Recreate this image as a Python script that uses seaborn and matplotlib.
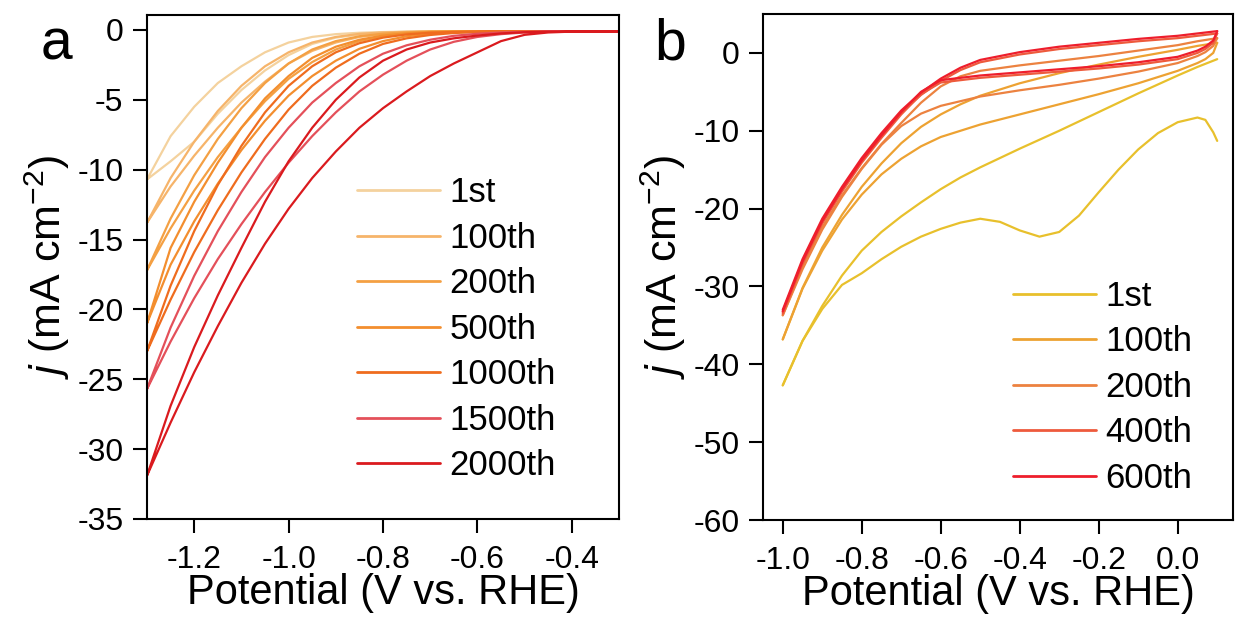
import numpy as np
import pandas as pd
import matplotlib
matplotlib.use("Agg")
import matplotlib.pyplot as plt
from matplotlib.lines import Line2D
import seaborn as sns

# ---------------- data: panel a (LSV, two sweep branches per cycle) ----------------
cycles_a = ["1st", "100th", "200th", "500th", "1000th", "1500th", "2000th"]
colors_a = ["#F4D29E", "#F6B46A", "#F4A043", "#F38E2E", "#EF6C1E", "#E4505A", "#DA1A1E"]
V_a = [-1.3, -1.25, -1.2, -1.15, -1.1, -1.05, -1.0, -0.95, -0.9, -0.85, -0.8,
       -0.75, -0.7, -0.65, -0.6, -0.55, -0.5, -0.45, -0.4, -0.3]

j_1st_fw = [-10.7, -7.6, -5.5, -3.8, -2.6, -1.6, -0.9, -0.5, -0.3, -0.2, -0.15, -0.12, -0.1, -0.1, -0.1, -0.1, -0.1, -0.1, -0.1, -0.1]
j_1st_bw = [-10.7, -9.4, -8.0, -6.0, -4.3, -2.9, -1.8, -1.0, -0.55, -0.32, -0.2, -0.15, -0.12, -0.1, -0.1, -0.1, -0.1, -0.1, -0.1, -0.1]
j_100_fw = [-13.8, -10.6, -8.0, -5.8, -4.0, -2.6, -1.6, -0.9, -0.5, -0.28, -0.18, -0.13, -0.1, -0.1, -0.1, -0.1, -0.1, -0.1, -0.1, -0.1]
j_100_bw = [-13.8, -11.2, -9.0, -7.0, -5.2, -3.7, -2.4, -1.5, -0.9, -0.5, -0.3, -0.2, -0.14, -0.1, -0.1, -0.1, -0.1, -0.1, -0.1, -0.1]
j_200_fw = [-17.2, -13.5, -10.4, -7.8, -5.6, -3.8, -2.4, -1.4, -0.8, -0.45, -0.27, -0.17, -0.12, -0.1, -0.1, -0.1, -0.1, -0.1, -0.1, -0.1]
j_200_bw = [-17.2, -14.2, -11.5, -9.1, -7.0, -5.1, -3.5, -2.3, -1.4, -0.8, -0.45, -0.27, -0.17, -0.12, -0.1, -0.1, -0.1, -0.1, -0.1, -0.1]
j_500_fw = [-21.0, -15.6, -12.3, -9.5, -7.0, -4.9, -3.3, -2.0, -1.2, -0.7, -0.4, -0.24, -0.15, -0.12, -0.1, -0.1, -0.1, -0.1, -0.1, -0.1]
j_500_bw = [-21.0, -16.8, -13.7, -11.0, -8.6, -6.5, -4.7, -3.3, -2.2, -1.35, -0.8, -0.45, -0.27, -0.17, -0.12, -0.1, -0.1, -0.1, -0.1, -0.1]
j_1000_fw = [-23.0, -18.3, -14.4, -11.1, -8.3, -5.9, -4.0, -2.6, -1.6, -0.95, -0.55, -0.32, -0.2, -0.14, -0.11, -0.1, -0.1, -0.1, -0.1, -0.1]
j_1000_bw = [-23.0, -19.3, -15.9, -12.9, -10.2, -7.8, -5.7, -4.0, -2.7, -1.7, -1.0, -0.6, -0.36, -0.22, -0.15, -0.12, -0.1, -0.1, -0.1, -0.1]
j_1500_fw = [-25.7, -21.3, -17.6, -14.4, -11.6, -9.1, -7.0, -5.2, -3.8, -2.6, -1.7, -1.1, -0.7, -0.42, -0.27, -0.18, -0.13, -0.11, -0.1, -0.1]
j_1500_bw = [-25.7, -22.3, -19.2, -16.4, -13.9, -11.6, -9.5, -7.6, -5.9, -4.4, -3.2, -2.2, -1.4, -0.85, -0.5, -0.3, -0.18, -0.13, -0.11, -0.1]
j_2000_fw = [-31.9, -26.9, -22.7, -19.0, -15.6, -12.3, -9.4, -7.0, -5.0, -3.4, -2.2, -1.4, -0.9, -0.6, -0.4, -0.25, -0.16, -0.12, -0.1, -0.1]
j_2000_bw = [-31.9, -28.1, -24.5, -21.2, -18.1, -15.3, -12.8, -10.6, -8.7, -7.0, -5.6, -4.4, -3.3, -2.4, -1.6, -0.8, -0.35, -0.18, -0.12, -0.1]

branches_a = {
    "1st": (j_1st_fw, j_1st_bw), "100th": (j_100_fw, j_100_bw),
    "200th": (j_200_fw, j_200_bw), "500th": (j_500_fw, j_500_bw),
    "1000th": (j_1000_fw, j_1000_bw), "1500th": (j_1500_fw, j_1500_bw),
    "2000th": (j_2000_fw, j_2000_bw),
}

# ---------------- data: panel b (CV loops) ----------------
cycles_b = ["1st", "100th", "200th", "400th", "600th"]
colors_b = ["#E8C02C", "#EDA232", "#EC8240", "#EE5A3C", "#EE1E2C"]
V_b_up = [-1.0, -0.95, -0.9, -0.85, -0.8, -0.75, -0.7, -0.65, -0.6, -0.55, -0.5,
          -0.4, -0.3, -0.2, -0.1, 0.0, 0.05, 0.1]
V_b_dn = [0.1, 0.09, 0.07, 0.05, 0.0, -0.1, -0.2, -0.3, -0.4, -0.5, -0.6, -0.65,
          -0.7, -0.75, -0.8, -0.85, -0.9, -0.95, -1.0]
V_b_dn_1st = [0.1, 0.09, 0.07, 0.05, 0.0, -0.05, -0.1, -0.15, -0.2, -0.25, -0.3, -0.35,
              -0.4, -0.45, -0.5, -0.55, -0.6, -0.65, -0.7, -0.75, -0.8, -0.85, -0.9, -0.95, -1.0]

jb_1st_up = [-42.7, -37.0, -32.5, -28.6, -25.4, -23.0, -21.0, -19.2, -17.5, -16.0, -14.7, -12.3, -10.0, -7.6, -5.2, -2.9, -1.8, -0.8]
jb_1st_dn = [-11.3, -10.2, -8.6, -8.3, -8.9, -10.3, -12.4, -15.0, -17.9, -20.9, -23.0, -23.6, -22.8, -21.7, -21.3, -21.8,
             -22.6, -23.6, -24.9, -26.5, -28.3, -29.8, -32.9, -37.0, -42.7]
jb_100_up = [-36.8, -30.2, -25.0, -20.8, -17.2, -14.2, -11.6, -9.5, -7.9, -6.6, -5.5, -3.9, -2.6, -1.5, -0.5, 0.4, 0.9, 1.3]
jb_100_dn = [1.3, 0.0, -0.8, -1.3, -2.3, -3.9, -5.3, -6.6, -7.9, -9.2, -10.8, -12.0, -13.6, -15.6, -18.2, -21.4, -25.4, -30.3, -36.8]
jb_200_up = [-33.7, -27.5, -22.4, -18.3, -14.8, -11.7, -9.0, -6.4, -4.3, -3.0, -2.3, -1.6, -1.0, -0.4, 0.3, 1.0, 1.5, 1.9]
jb_200_dn = [1.9, 0.9, 0.1, -0.4, -1.3, -2.4, -3.3, -4.1, -4.8, -5.6, -6.8, -7.8, -9.4, -11.8, -14.9, -18.5, -22.7, -27.8, -33.7]
jb_400_up = [-33.3, -26.8, -21.6, -17.5, -13.8, -10.6, -7.7, -5.4, -3.6, -2.2, -1.2, -0.2, 0.5, 1.0, 1.5, 1.9, 2.2, 2.5]
jb_400_dn = [2.5, 1.3, 0.5, 0.0, -0.8, -1.5, -2.0, -2.4, -2.8, -3.2, -3.8, -5.3, -7.9, -10.9, -14.1, -17.8, -21.9, -27.1, -33.5]
jb_600_up = [-33.0, -26.5, -21.3, -17.2, -13.5, -10.3, -7.4, -5.1, -3.3, -1.9, -0.9, 0.1, 0.8, 1.3, 1.8, 2.2, 2.5, 2.8]
jb_600_dn = [2.8, 1.6, 0.8, 0.3, -0.5, -1.2, -1.7, -2.1, -2.5, -2.9, -3.5, -5.0, -7.6, -10.6, -13.8, -17.5, -21.6, -26.8, -33.2]

loops_b = {
    "1st": (V_b_up, jb_1st_up, V_b_dn_1st, jb_1st_dn),
    "100th": (V_b_up, jb_100_up, V_b_dn, jb_100_dn),
    "200th": (V_b_up, jb_200_up, V_b_dn, jb_200_dn),
    "400th": (V_b_up, jb_400_up, V_b_dn, jb_400_dn),
    "600th": (V_b_up, jb_600_up, V_b_dn, jb_600_dn),
}

# ---------------- build tables ----------------
rows = []
for c in cycles_a:
    fw, bw = branches_a[c]
    for v, j in zip(V_a, fw):
        rows.append((c, v, j))
    for v, j in zip(V_a[::-1], bw[::-1]):
        rows.append((c, v, j))
df_a = pd.DataFrame(rows, columns=["cycle", "V", "j"])

rows = []
for c in cycles_b:
    vu, ju, vd, jd = loops_b[c]
    for v, j in zip(vu, ju):
        rows.append((c, c + "_up", v, j))
    for v, j in zip(vd, jd):
        rows.append((c, c + "_dn", v, j))
df_b = pd.DataFrame(rows, columns=["cycle", "branch", "V", "j"])

# ---------------- style ----------------
sns.set_style("ticks")
plt.rcParams.update({
    "font.family": ["Liberation Sans", "DejaVu Sans"],
    "axes.unicode_minus": False,
    "mathtext.fontset": "custom",
    "mathtext.rm": "Liberation Sans",
    "mathtext.it": "Liberation Sans:italic",
    "mathtext.default": "regular",
    "text.color": "black",
    "axes.labelcolor": "black",
    "xtick.color": "black",
    "ytick.color": "black",
    "axes.edgecolor": "black",
})

W, H = 1238, 619
fig = plt.figure(figsize=(W / 100, H / 100), dpi=100)
axa = fig.add_axes([147 / W, 1 - 519 / H, 472 / W, 504 / H])
axb = fig.add_axes([763 / W, 1 - 520 / H, 470 / W, 506 / H])

sns.lineplot(data=df_a, x="V", y="j", hue="cycle", hue_order=cycles_a,
             palette=colors_a, sort=False, estimator=None, legend=False,
             linewidth=1.6, ax=axa)
sns.lineplot(data=df_b, x="V", y="j", hue="cycle", hue_order=cycles_b,
             units="branch", palette=colors_b, sort=False, estimator=None,
             legend=False, linewidth=1.6, ax=axb)

xlabel = "Potential (V vs. RHE)"
ylabel = r"$\it{j}$ (mA cm$^{-2}$)"

for ax in (axa, axb):
    for s in ax.spines.values():
        s.set_linewidth(1.5)
        s.set_color("black")
    ax.tick_params(direction="out", length=10, width=1.5, labelsize=23,
                   top=False, right=False, color="black", labelcolor="black")
    ax.tick_params(axis="x", pad=9)
    ax.tick_params(axis="y", pad=7)
    ax.set_xlabel(xlabel, fontsize=30, labelpad=-2, color="black")
    ax.set_ylabel(ylabel, fontsize=31, labelpad=4, color="black")

axa.set_xlim(-1.3, -0.3)
axa.set_ylim(-35, 1.07)
axa.set_xticks([-1.2, -1.0, -0.8, -0.6, -0.4])
axa.set_xticklabels(["-1.2", "-1.0", "-0.8", "-0.6", "-0.4"])
axa.set_yticks([0, -5, -10, -15, -20, -25, -30, -35])
axa.set_yticklabels(["0", "-5", "-10", "-15", "-20", "-25", "-30", "-35"])

axb.set_xlim(-1.05, 0.14)
axb.set_ylim(-60, 5)
axb.set_xticks([-1.0, -0.8, -0.6, -0.4, -0.2, 0.0])
axb.set_xticklabels(["-1.0", "-0.8", "-0.6", "-0.4", "-0.2", "0.0"])
axb.set_yticks([0, -10, -20, -30, -40, -50, -60])
axb.set_yticklabels(["0", "-10", "-20", "-30", "-40", "-50", "-60"])

leg_kw = dict(loc="center left", frameon=False, fontsize=25, handlelength=2.4,
              handletextpad=0.26, labelspacing=0.36, borderpad=0, borderaxespad=0)
handles_a = [Line2D([], [], color=c, lw=2) for c in colors_a]
axa.legend(handles_a, cycles_a, bbox_to_anchor=(0.445, 0.376), **leg_kw)
handles_b = [Line2D([], [], color=c, lw=2) for c in colors_b]
axb.legend(handles_b, cycles_b, bbox_to_anchor=(0.532, 0.262), **leg_kw)

fig.text(56 / W, 1 - 45 / H, "a", fontsize=41, ha="center", va="center", color="black")
fig.text(670 / W, 1 - 45 / H, "b", fontsize=41, ha="center", va="center", color="black")

fig.savefig("out.png", dpi=100)
